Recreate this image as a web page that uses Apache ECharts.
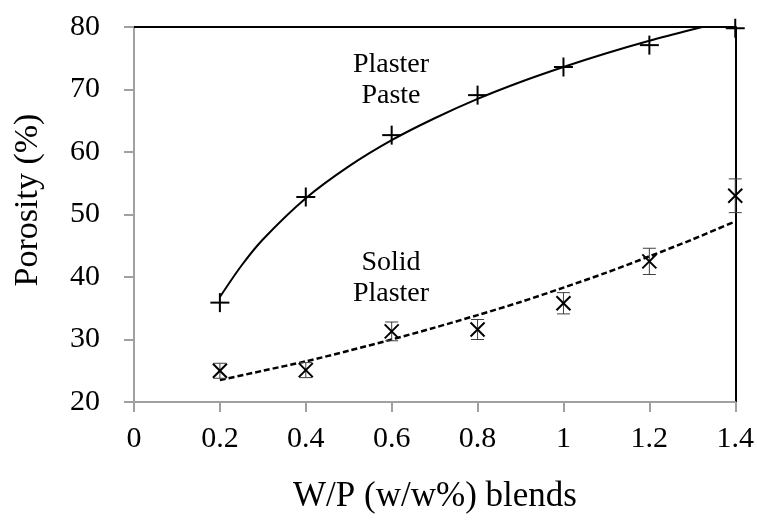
<!DOCTYPE html>
<html>
<head>
<meta charset="utf-8">
<script src="https://cdn.jsdelivr.net/npm/echarts@6/dist/echarts.min.js"></script>
<style>
html,body{margin:0;padding:0;background:#fff;}
#c{width:757px;height:524px;}
</style>
</head>
<body>
<div id="c"></div>
<script>
// Measured points (x = W/P ratio, y = porosity %)
var xTicks = [0, 0.2, 0.4, 0.6, 0.8, 1.0, 1.2, 1.4];
var pasteX = [0.2, 0.4, 0.6, 0.8, 1.0, 1.2, 1.4];
var pasteY = [35.9, 52.8, 62.7, 69.1, 73.6, 77.1, 79.8];
var solidX = [0.2, 0.4, 0.6, 0.8, 1.0, 1.2, 1.4];
var solidY = [25.0, 25.1, 31.3, 31.6, 35.8, 42.5, 53.0];
var solidErr = [1.2, 1.2, 1.5, 1.6, 1.7, 2.1, 2.7];
// Trend curves
var pasteTrendX = [0.2, 0.25, 0.3, 0.4, 0.5, 0.6, 0.7, 0.8, 0.9, 1.0, 1.1, 1.2, 1.3, 1.4];
var pasteTrendY = [36.8, 41.8, 46.0, 52.6, 57.7, 61.9, 65.4, 68.5, 71.2, 73.6, 75.8, 77.8, 79.6, 81.3];
var solidTrendX = [0.2, 0.3, 0.4, 0.5, 0.6, 0.7, 0.8, 0.9, 1.0, 1.1, 1.2, 1.3, 1.4];
var solidTrendY = [23.5, 25.0, 26.5, 28.2, 30.0, 31.9, 33.9, 36.0, 38.3, 40.7, 43.3, 46.0, 48.9];

var FONT = '"Liberation Serif", "DejaVu Serif", serif';

function zip(a, b, c) {
  return a.map(function (v, i) { return c ? [v, b[i], c[i]] : [v, b[i]]; });
}

var chart = echarts.init(document.getElementById('c'), null, {renderer: 'canvas'});

var option = {
  backgroundColor: '#ffffff',
  animation: false,
  grid: {left: 134, right: 21, top: 27, bottom: 122},
  xAxis: [{
    type: 'value', min: 0, max: 1.4, interval: 0.2,
    axisLine: {show: true, onZero: false, lineStyle: {color: '#a0a0a0', width: 2}},
    axisTick: {show: true, inside: false, length: 10, lineStyle: {color: '#a0a0a0', width: 2}},
    axisLabel: {color: '#000', fontFamily: FONT, fontSize: 30, margin: 22,
      formatter: function (v) { return String(Math.round(v * 10) / 10); }},
    splitLine: {show: false}
  }, {
    type: 'value', position: 'top', min: 0, max: 1.4,
    axisLine: {show: true, onZero: false, lineStyle: {color: '#000', width: 2}},
    axisTick: {show: false}, axisLabel: {show: false}, splitLine: {show: false}
  }],
  yAxis: [{
    type: 'value', min: 20, max: 80, interval: 10,
    axisLine: {show: true, onZero: false, lineStyle: {color: '#a0a0a0', width: 2}},
    axisTick: {show: true, inside: false, length: 10, lineStyle: {color: '#a0a0a0', width: 2}},
    axisLabel: {color: '#000', fontFamily: FONT, fontSize: 30, margin: 34},
    splitLine: {show: false}
  }, {
    type: 'value', position: 'right', min: 20, max: 80,
    axisLine: {show: true, onZero: false, lineStyle: {color: '#000', width: 2}},
    axisTick: {show: false}, axisLabel: {show: false}, splitLine: {show: false}
  }],
  series: [
    {
      name: 'Plaster paste trend', type: 'line', smooth: 0.3, showSymbol: false,
      clip: true, data: zip(pasteTrendX, pasteTrendY),
      lineStyle: {color: '#000', width: 2}, z: 3
    },
    {
      name: 'Solid plaster trend', type: 'line', smooth: 0.3, showSymbol: false,
      clip: true, data: zip(solidTrendX, solidTrendY),
      lineStyle: {color: '#000', width: 2.5, type: [6, 3]}, z: 3
    },
    {
      name: 'Solid plaster error', type: 'custom', z: 4,
      data: zip(solidX, solidY, solidErr),
      renderItem: function (params, api) {
        var x = api.value(0), y = api.value(1), e = api.value(2);
        var top = api.coord([x, y + e]);
        var bot = api.coord([x, y - e]);
        var w = 6.5;
        var st = {stroke: '#404040', lineWidth: 1};
        return {type: 'group', children: [
          {type: 'line', shape: {x1: top[0], y1: top[1], x2: bot[0], y2: bot[1]}, style: st},
          {type: 'line', shape: {x1: top[0] - w, y1: top[1], x2: top[0] + w, y2: top[1]}, style: st},
          {type: 'line', shape: {x1: bot[0] - w, y1: bot[1], x2: bot[0] + w, y2: bot[1]}, style: st}
        ]};
      }
    },
    {
      name: 'Solid Plaster', type: 'custom', z: 5,
      data: zip(solidX, solidY),
      renderItem: function (params, api) {
        var p = api.coord([api.value(0), api.value(1)]);
        var s = 7;
        var st = {stroke: '#000', lineWidth: 2};
        return {type: 'group', children: [
          {type: 'line', shape: {x1: p[0] - s, y1: p[1] - s, x2: p[0] + s, y2: p[1] + s}, style: st},
          {type: 'line', shape: {x1: p[0] - s, y1: p[1] + s, x2: p[0] + s, y2: p[1] - s}, style: st}
        ]};
      }
    },
    {
      name: 'Plaster Paste', type: 'custom', z: 5,
      data: zip(pasteX, pasteY),
      renderItem: function (params, api) {
        var p = api.coord([api.value(0), api.value(1)]);
        var s = 9.5;
        var st = {stroke: '#000', lineWidth: 2};
        return {type: 'group', children: [
          {type: 'line', shape: {x1: p[0] - s, y1: p[1], x2: p[0] + s, y2: p[1]}, style: st},
          {type: 'line', shape: {x1: p[0], y1: p[1] - s, x2: p[0], y2: p[1] + s}, style: st}
        ]};
      }
    }
  ],
  graphic: [
    {type: 'text', z: 10,
      style: {text: 'Plaster\nPaste', font: '28px ' + FONT, fill: '#000', align: 'center',
        verticalAlign: 'top', lineHeight: 31},
      x: 391, y: 49
    },
    {type: 'text', z: 10,
      style: {text: 'Solid\nPlaster', font: '28px ' + FONT, fill: '#000', align: 'center',
        verticalAlign: 'top', lineHeight: 31},
      x: 391, y: 247
    },
    {type: 'text', z: 10,
      style: {text: 'Porosity (%)', font: '34px ' + FONT, fill: '#000', align: 'center',
        verticalAlign: 'middle'},
      x: 28, y: 200, rotation: Math.PI / 2
    },
    {type: 'text', z: 10,
      style: {text: 'W/P (w/w%) blends', font: '35px ' + FONT, fill: '#000', align: 'center',
        verticalAlign: 'middle'},
      x: 435, y: 497
    }
  ]
};
chart.setOption(option);
</script>
</body>
</html>
